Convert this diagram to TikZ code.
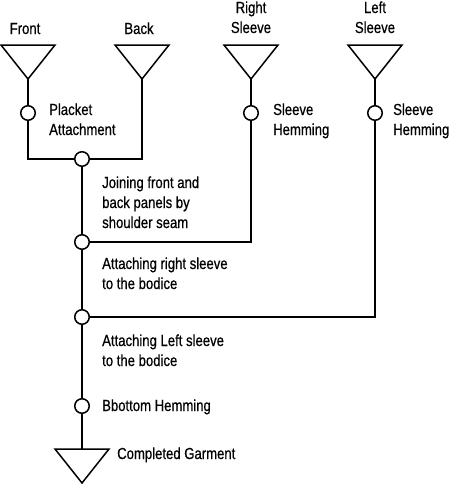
\documentclass[tikz,border=0pt]{standalone}
\usepackage{fontspec}
\setmainfont{Liberation Sans}[FakeStretch=0.82, FakeBold=0.6]
\usetikzlibrary{positioning, calc}

\tikzset{
  flow/.style={line width=1.5pt, line join=miter},
  opcircle/.style={draw, circle, fill=white, line width=1.5pt, minimum size=14.5pt, inner sep=0pt},
  steplabel/.style={align=left, inner sep=0pt, anchor=base west, font=\fontsize{16}{20}\selectfont},
  partlabel/.style={align=center, inner sep=0pt, anchor=base, font=\fontsize{16}{20}\selectfont},
}
% triangle hanging from its apex
\newcommand{\parttri}[1]{\draw[flow] (#1) -- ++(-27,-34) -- ++(54,0) -- cycle;}

\begin{document}
\begin{tikzpicture}[x=1pt, y=-1pt]
  \useasboundingbox (0,0) rectangle (450,485);

  % parts
  \coordinate (front) at (28,79);
  \coordinate (back) at (142,79);
  \coordinate (rsleeve) at (251,79);
  \coordinate (lsleeve) at (375,79);
  \parttri{front}
  \parttri{back}
  \parttri{rsleeve}
  \parttri{lsleeve}

  \node[partlabel] (frontlbl) at (25,34) {Front};
  \node[partlabel] (backlbl) at (139,34) {Back};
  \node[partlabel] (rsleevelbl) at (251,33) {Right\\Sleeve};
  \node[partlabel] (lsleevelbl) at (375,33) {Left\\Sleeve};

  % operations
  \node[opcircle] (placket) at (28,113) {};
  \node[opcircle] (rhem) at (251,113) {};
  \node[opcircle] (lhem) at (375,113) {};
  \node[opcircle] (join1) at (82,159) {};
  \node[opcircle] (join2) at (82,242) {};
  \node[opcircle] (join3) at (82,317) {};
  \node[opcircle] (bhem) at (82,406) {};

  % finished garment
  \coordinate (garment) at (82,483);
  \coordinate (garmtop) at (82,449);
  \parttri{garment}

  \draw[flow] (front) -- (placket);
  \draw[flow] (placket) |- (join1);
  \draw[flow] (back) |- (join1);
  \draw[flow] (rsleeve) -- (rhem);
  \draw[flow] (lsleeve) -- (lhem);
  \draw[flow] (rhem) |- (join2);
  \draw[flow] (lhem) |- (join3);
  \draw[flow] (join1) -- (join2);
  \draw[flow] (join2) -- (join3);
  \draw[flow] (join3) -- (bhem);
  \draw[flow] (bhem) -- (garmtop);

  \node[steplabel] (placketlbl) at (49,135) {Placket\\Attachment};
  \node[steplabel] (rhemlbl) at (273,135) {Sleeve\\Hemming};
  \node[steplabel] (lhemlbl) at (393,135) {Sleeve\\Hemming};
  \node[steplabel] (join1lbl) at (102,228) {Joining front and\\back panels by\\shoulder seam};
  \node[steplabel] (join2lbl) at (102,289) {Attaching right sleeve\\to the bodice};
  \node[steplabel] (join3lbl) at (102,366) {Attaching Left sleeve\\to the bodice};
  \node[steplabel] (bhemlbl) at (102,411) {Bbottom Hemming};
  \node[steplabel] (garmentlbl) at (117,459) {Completed Garment};
\end{tikzpicture}
\end{document}
